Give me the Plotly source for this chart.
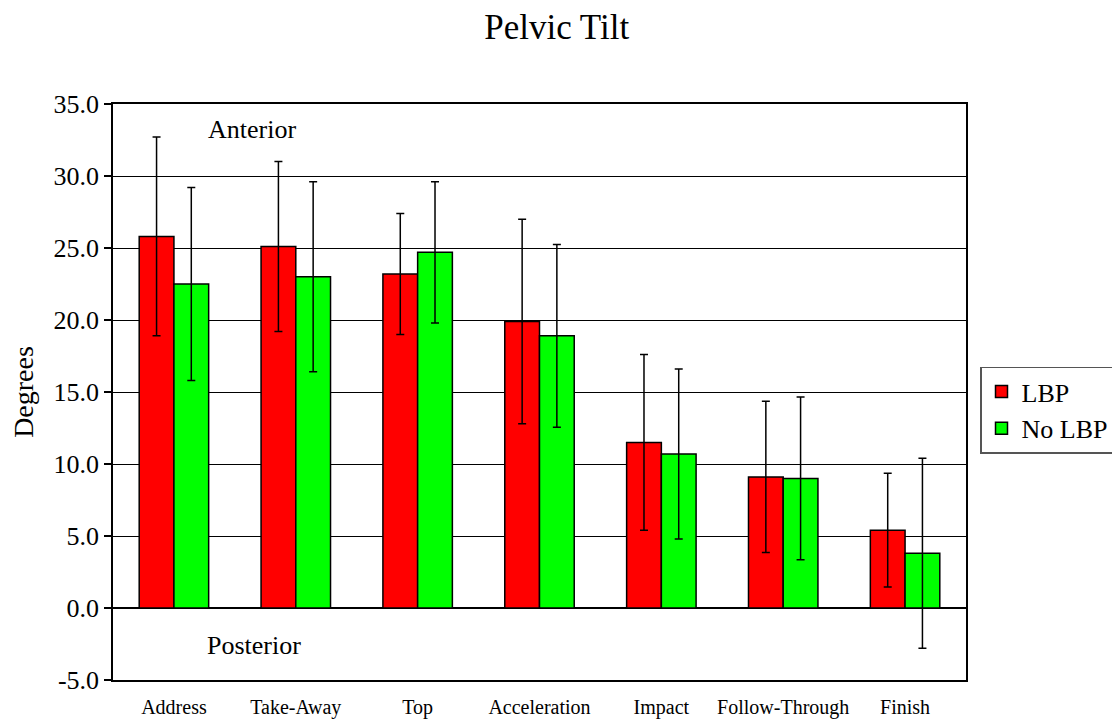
import plotly.graph_objects as go

categories = ["Address", "Take-Away", "Top", "Acceleration", "Impact", "Follow-Through", "Finish"]
lbp_values = [25.8, 25.1, 23.2, 19.9, 11.5, 9.1, 5.4]
lbp_sd = [6.9, 5.9, 4.2, 7.1, 6.1, 5.25, 3.95]
nolbp_values = [22.5, 23.0, 24.7, 18.9, 10.7, 9.0, 3.8]
nolbp_sd = [6.7, 6.6, 4.9, 6.35, 5.9, 5.65, 6.6]
y_ticks = [-5, 0, 5, 10, 15, 20, 25, 30, 35]

FONT = "Liberation Serif, Times New Roman, serif"
H = 716

fig = go.Figure()
fig.add_trace(go.Bar(
    name="LBP", x=categories, y=lbp_values,
    marker=dict(color="#FF0000", line=dict(color="black", width=1.5)),
    error_y=dict(type="data", array=lbp_sd, visible=True, color="black", thickness=1.5, width=4),
))
fig.add_trace(go.Bar(
    name="No LBP", x=categories, y=nolbp_values,
    marker=dict(color="#00FF00", line=dict(color="black", width=1.5)),
    error_y=dict(type="data", array=nolbp_sd, visible=True, color="black", thickness=1.5, width=4),
))

fig.update_layout(
    width=1104, height=H,
    barmode="group", bargap=0.43, bargroupgap=0,
    plot_bgcolor="white", paper_bgcolor="white",
    margin=dict(l=105, r=146, t=96, b=H - 672),
    font=dict(family=FONT, color="black"),
    title=dict(text="Pelvic Tilt", x=0.497, xanchor="center", y=1 - 6 / H, yanchor="top",
               pad=dict(t=0, b=0), font=dict(size=35, family=FONT, color="black")),
    legend=dict(xref="container", yref="container", x=972 / 1104, y=1 - 402 / H,
                xanchor="left", yanchor="middle",
                bordercolor="#555555", borderwidth=1.5,
                font=dict(size=26, family=FONT), tracegroupgap=0,
                itemwidth=30),
    showlegend=True,
)
fig.update_xaxes(
    automargin=False,
    showline=True, linecolor="black", linewidth=1.5, mirror=True,
    ticks="", tickfont=dict(size=20, family=FONT), ticklabelstandoff=8,
)
fig.update_yaxes(
    automargin=False,
    range=[-5, 35], tickvals=y_ticks, ticktext=[f"{v:.1f}" for v in y_ticks],
    showline=True, linecolor="black", linewidth=1.5, mirror=True,
    ticks="outside", ticklen=7, tickcolor="black", tickwidth=1.5,
    showgrid=True, gridcolor="black", gridwidth=1,
    zeroline=True, zerolinecolor="black", zerolinewidth=1.5,
    tickfont=dict(size=26, family=FONT),
    title=dict(text="Degrees", font=dict(size=28, family=FONT), standoff=16),
)
fig.add_annotation(text="Anterior", x=0.163, y=33.2, xref="paper", yref="y",
                   showarrow=False, font=dict(size=26, family=FONT), xanchor="center")
fig.add_annotation(text="Posterior", x=0.165, y=-2.57, xref="paper", yref="y",
                   showarrow=False, font=dict(size=26, family=FONT), xanchor="center")

fig.write_html("out.html")
